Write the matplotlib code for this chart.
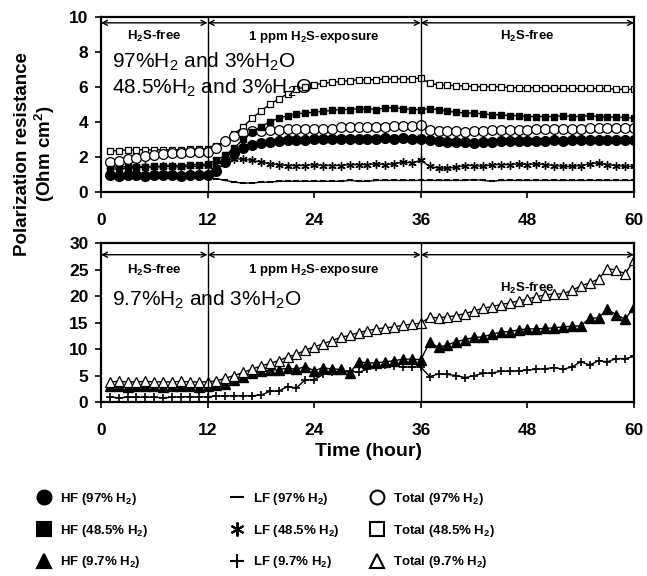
import matplotlib
matplotlib.use("Agg")
import matplotlib.pyplot as plt
from matplotlib.lines import Line2D

plt.rcParams['font.family'] = ['Liberation Sans', 'DejaVu Sans']
plt.rcParams['mathtext.fontset'] = 'custom'
plt.rcParams['mathtext.rm'] = 'Liberation Sans'
plt.rcParams['mathtext.bf'] = 'Liberation Sans:bold'
plt.rcParams['mathtext.default'] = 'bf'

# temps (heure)
hours = list(range(1, 61))

# 97% H2
hf_97 = [0.95, 0.9, 0.95, 0.95, 0.9, 0.95, 0.95, 0.95, 0.9, 0.95, 0.95, 0.95,
         1.2, 1.7, 2.2, 2.5, 2.7, 2.8, 2.85, 2.9, 2.95, 2.95, 2.95, 3.0,
         3.0, 3.0, 3.0, 3.0, 3.0, 3.0, 3.0, 3.05, 3.0, 3.05, 3.0, 3.0,
         2.95, 2.9, 2.85, 2.85, 2.85, 2.8, 2.85, 2.85, 2.9, 2.9, 2.9, 2.9,
         2.9, 2.9, 2.95, 2.9, 2.95, 2.95, 2.95, 2.95, 2.95, 2.95, 2.95, 2.95]
lf_97 = [0.85, 0.8, 0.8, 0.8, 0.85, 0.8, 0.8, 0.8, 0.8, 0.85, 0.8, 0.8,
         0.75, 0.65, 0.55, 0.5, 0.5, 0.55, 0.55, 0.6, 0.6, 0.6, 0.6, 0.6,
         0.6, 0.6, 0.6, 0.65, 0.6, 0.6, 0.65, 0.65, 0.65, 0.65, 0.65, 0.65,
         0.65, 0.65, 0.65, 0.65, 0.65, 0.7, 0.65, 0.6, 0.65, 0.65, 0.65, 0.65,
         0.65, 0.65, 0.65, 0.65, 0.65, 0.65, 0.65, 0.65, 0.65, 0.65, 0.65, 0.65]
tot_97 = [1.7, 1.75, 1.85, 1.95, 2.05, 2.1, 2.15, 2.2, 2.2, 2.25, 2.25, 2.3,
          2.5, 2.9, 3.2, 3.35, 3.45, 3.5, 3.55, 3.55, 3.6, 3.6, 3.6, 3.6,
          3.6, 3.6, 3.7, 3.7, 3.7, 3.7, 3.7, 3.7, 3.75, 3.75, 3.75, 3.8,
          3.55, 3.5, 3.5, 3.45, 3.4, 3.45, 3.5, 3.55, 3.55, 3.55, 3.55, 3.55,
          3.6, 3.6, 3.6, 3.6, 3.6, 3.6, 3.65, 3.65, 3.65, 3.65, 3.65, 3.65]

# 48.5% H2
hf_485 = [1.3, 1.3, 1.35, 1.4, 1.4, 1.45, 1.45, 1.5, 1.5, 1.55, 1.55, 1.6,
          1.8, 2.1, 2.5, 3.0, 3.4, 3.7, 4.0, 4.2, 4.35, 4.45, 4.5, 4.55,
          4.6, 4.65, 4.7, 4.7, 4.75, 4.75, 4.7, 4.8, 4.8, 4.75, 4.7, 4.7,
          4.75, 4.7, 4.6, 4.55, 4.5, 4.5, 4.45, 4.4, 4.4, 4.35, 4.35, 4.3,
          4.3, 4.3, 4.3, 4.35, 4.3, 4.3, 4.35, 4.3, 4.3, 4.25, 4.25, 4.2]
lf_485 = [1.45, 1.4, 1.45, 1.4, 1.45, 1.4, 1.45, 1.45, 1.4, 1.45, 1.45, 1.5,
          1.6, 1.8, 1.9, 1.85, 1.8, 1.7, 1.6, 1.55, 1.5, 1.5, 1.5, 1.55,
          1.5, 1.5, 1.5, 1.55, 1.55, 1.55, 1.6, 1.55, 1.6, 1.7, 1.65, 1.8,
          1.45, 1.35, 1.35, 1.4, 1.5, 1.5, 1.45, 1.55, 1.55, 1.55, 1.6, 1.55,
          1.6, 1.55, 1.5, 1.45, 1.45, 1.5, 1.6, 1.65, 1.55, 1.5, 1.45, 1.45]
tot_485 = [2.35, 2.35, 2.4, 2.4, 2.4, 2.4, 2.4, 2.4, 2.4, 2.45, 2.45, 2.45,
           2.6, 2.9, 3.3, 3.7, 4.2, 4.6, 5.0, 5.3, 5.6, 5.85, 6.0, 6.1,
           6.2, 6.25, 6.3, 6.35, 6.4, 6.4, 6.4, 6.45, 6.45, 6.45, 6.45, 6.5,
           6.2, 6.1, 6.1, 6.05, 6.05, 6.0, 6.0, 6.0, 6.0, 5.95, 5.95, 5.95,
           5.95, 5.95, 5.9, 5.9, 5.9, 5.9, 5.9, 5.9, 5.9, 5.85, 5.85, 5.85]

# 9.7% H2
hf_97b = [3.0, 3.0, 2.9, 3.0, 3.0, 3.0, 2.9, 3.0, 3.0, 3.0, 2.9, 3.0,
          3.2, 3.5, 4.2, 4.8, 5.4, 5.8, 6.0, 6.1, 6.4, 6.2, 6.7, 5.9,
          6.5, 6.2, 6.2, 5.5, 7.6, 7.4, 7.4, 7.6, 7.8, 8.1, 8.1, 8.0,
          11.3, 10.3, 10.8, 11.4, 11.8, 12.2, 12.3, 12.8, 13.2, 13.3, 13.6, 13.8,
          13.8, 13.9, 14.0, 14.2, 14.3, 14.4, 15.8, 15.9, 17.5, 16.5, 15.6, 18.0]
lf_97b = [1.0, 0.8, 0.9, 0.9, 0.9, 0.9, 0.8, 0.9, 1.0, 1.0, 1.0, 1.0,
          1.1, 1.2, 1.2, 1.2, 1.2, 1.3, 2.0, 2.1, 2.9, 2.7, 4.2, 4.2,
          5.2, 5.6, 5.8, 5.8, 5.6, 6.2, 6.7, 7.0, 6.8, 6.6, 6.6, 6.6,
          4.8, 5.3, 5.2, 5.0, 4.6, 5.0, 5.4, 5.5, 5.8, 5.8, 5.9, 6.0,
          6.2, 6.3, 6.5, 6.2, 6.6, 7.6, 7.0, 7.8, 7.6, 8.2, 8.2, 8.6]
tot_97b = [3.8, 3.9, 3.8, 3.8, 3.9, 3.8, 3.8, 3.8, 3.9, 3.8, 3.8, 3.8,
           4.0, 4.5, 5.0, 5.6, 6.2, 6.8, 7.3, 7.8, 8.5, 9.0, 9.8, 10.4,
           11.0, 11.6, 12.2, 12.6, 13.1, 13.5, 13.8, 14.0, 14.2, 14.5, 14.7, 14.9,
           16.0, 15.9, 16.1, 16.3, 16.7, 17.2, 17.7, 18.0, 18.4, 18.7, 19.1, 19.4,
           19.9, 20.2, 20.4, 20.4, 21.1, 21.9, 22.5, 23.2, 25.2, 24.9, 24.2, 26.8]

periodes = [(0, 12), (12, 36), (36, 60)]
noms_periodes = [r'H$_2$S-free', r'1 ppm H$_2$S-exposure', r'H$_2$S-free']

fig = plt.figure(figsize=(6.47, 5.76), dpi=100)
ax1 = fig.add_axes([0.156, 0.667, 0.824, 0.304])
ax2 = fig.add_axes([0.156, 0.302, 0.824, 0.276])

style = dict(color='black', lw=1.0)
ax1.plot(hours, lf_97, marker='_', ms=5, mew=1.5, **style)
ax1.plot(hours, lf_485, marker=(6, 2, 0), ms=6, mew=1.0, **style)
ax1.plot(hours, tot_485, marker='s', ms=4, mfc='white', mec='black', mew=0.9, **style)
ax1.plot(hours, tot_97, marker='o', ms=7, mfc='white', mec='black', mew=0.9, **style)
ax1.plot(hours, hf_485, marker='s', ms=4.5, mfc='black', mec='black', **style)
ax1.plot(hours, hf_97, marker='o', ms=7, mfc='black', mec='black', **style)

ax2.plot(hours, lf_97b, marker='+', ms=6, mew=1.2, **style)
ax2.plot(hours, hf_97b, marker='^', ms=6.5, mfc='black', mec='black', **style)
ax2.plot(hours, tot_97b, marker='^', ms=6.5, mfc='white', mec='black', mew=0.9, **style)

def habiller(ax, ymax, ystep, y_fleche, y_textes):
    ax.set_xlim(0, 60)
    ax.set_ylim(0, ymax)
    ax.set_xticks([0, 12, 24, 36, 48, 60])
    ax.set_yticks(list(range(0, ymax + 1, ystep)))
    ax.tick_params(axis='x', direction='out', length=4, width=1.2, pad=11, labelsize=12.5)
    ax.tick_params(axis='y', direction='out', length=4, width=1.2, pad=5, labelsize=12.5)
    for lab in ax.get_xticklabels() + ax.get_yticklabels():
        lab.set_fontweight('bold')
    for sp in ax.spines.values():
        sp.set_linewidth(1.6)
    for x in [12, 36]:
        ax.axvline(x, color='black', lw=1.0)
    for (a, b), nom, yt in zip(periodes, noms_periodes, y_textes):
        ax.annotate('', xy=(b, y_fleche), xytext=(a, y_fleche),
                    arrowprops=dict(arrowstyle='<->', color='black', lw=1.0,
                                    shrinkA=0, shrinkB=0, mutation_scale=9))
        ax.text((a + b) / 2, yt, nom, ha='center', va='center', fontsize=9.5, fontweight='bold')

habiller(ax1, 10, 2, 9.65, [8.85, 8.85, 8.85])
habiller(ax2, 30, 5, 27.8, [24.9, 24.9, 21.5])

ax1.text(1.2, 7.45, r'97%H$\mathregular{_2}$ and 3%H$\mathregular{_2}$O', fontsize=15, va='center')
ax1.text(1.2, 5.95, r'48.5%H$\mathregular{_2}$ and 3%H$\mathregular{_2}$O', fontsize=15, va='center')
ax2.text(1.2, 19.3, r'9.7%H$\mathregular{_2}$ and 3%H$\mathregular{_2}$O', fontsize=15, va='center')

fig.text(0.055, 0.733, 'Polarization resistance\n(Ohm cm$^2$)', rotation=90, ha='center', va='center',
         fontsize=13.5, fontweight='bold', linespacing=1.1)
fig.text(0.569, 0.217, 'Time (hour)', ha='center', va='center', fontsize=14, fontweight='bold')

# légende en trois colonnes
colonnes = [
    [('o', 'black', r'HF (97% H$_2$)'), ('s', 'black', r'HF (48.5% H$_2$)'), ('^', 'black', r'HF (9.7% H$_2$)')],
    [('_', 'black', r'LF (97% H$_2$)'), ((6, 2, 0), 'black', r'LF (48.5% H$_2$)'), ('+', 'black', r'LF (9.7% H$_2$)')],
    [('o', 'white', r'Total (97% H$_2$)'), ('s', 'white', r'Total (48.5% H$_2$)'), ('^', 'white', r'Total (9.7% H$_2$)')],
]
x_colonnes = [0.038, 0.336, 0.553]
for xc, col in zip(x_colonnes, colonnes):
    poignees = [Line2D([], [], ls='none', marker=m, ms=10, mfc=fc, mec='black', mew=1.5, color='black',
                       label=lab) for m, fc, lab in col]
    leg = fig.legend(handles=poignees, loc='upper left', bbox_to_anchor=(xc, 0.168), frameon=False,
                     handlelength=1.1, handletextpad=0.7, labelspacing=1.18,
                     prop={'size': 9.5, 'weight': 'bold'})

fig.savefig('out.png', dpi=100)
